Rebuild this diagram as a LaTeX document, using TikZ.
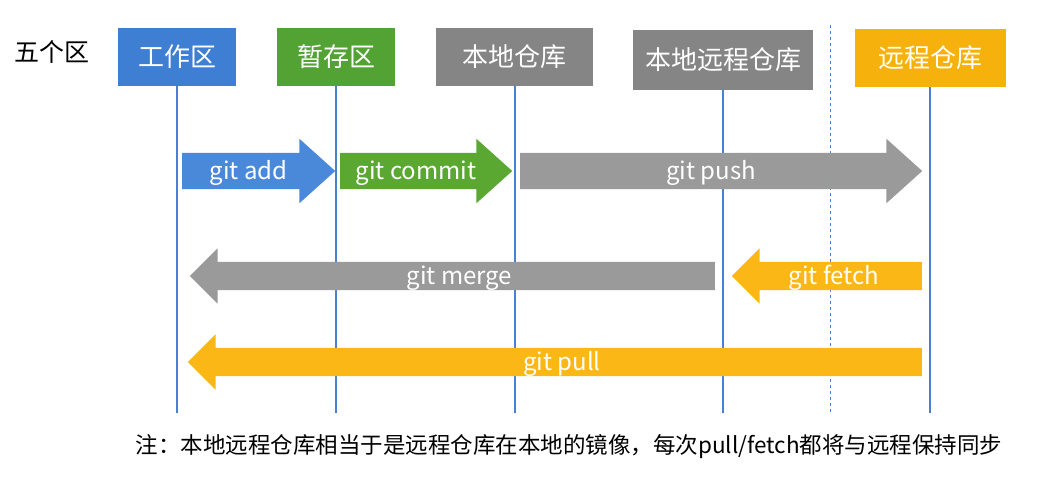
\documentclass[tikz,border=0pt]{standalone}
\usepackage{fontspec}
\setmainfont{Noto Sans CJK SC}
\usetikzlibrary{shapes.arrows}

\definecolor{workblue}{HTML}{3F7FD3}
\definecolor{stagegreen}{HTML}{52A333}
\definecolor{repogray}{HTML}{858585}
\definecolor{remoteorange}{HTML}{F6B10C}
\definecolor{laneblue}{HTML}{4A80D2}
\definecolor{addblue}{HTML}{4A89D9}
\definecolor{commitgreen}{HTML}{5AA832}
\definecolor{pushgray}{HTML}{9A9A9A}
\definecolor{pullorange}{HTML}{FBB715}

\tikzset{
  zone/.style={minimum height=58pt, inner sep=0pt, text=white,
    font=\fontsize{26}{30}\selectfont},
  lane/.style={draw=laneblue, line width=1.8pt},
  cmd/.style={single arrow, anchor=tail, text=white, inner xsep=0pt,
    text height=19pt, text depth=2pt, inner ysep=7.5pt,
    single arrow head extend=14pt, single arrow tip angle=84,
    font=\fontsize{24}{28}\selectfont},
  back/.style={cmd, shape border rotate=180, inner ysep=3.5pt,
    single arrow head extend=13.5pt, single arrow tip angle=90}
}

\begin{document}
\begin{tikzpicture}[x=1pt, y=-1pt]
  \useasboundingbox (0,0) rectangle (1044,488);

  % the five zones
  \node[font=\fontsize{25}{30}\selectfont] (title) at (52,52) {五个区};
  \node[zone, minimum width=118pt, fill=workblue] (work) at (177,57) {工作区};
  \node[zone, minimum width=118pt, fill=stagegreen] (stage) at (336,57) {暂存区};
  \node[zone, minimum width=157pt, fill=repogray] (local) at (514,57) {本地仓库};
  \node[zone, minimum width=180pt, minimum height=60pt, fill=repogray] (mirror) at (723,60) {本地远程仓库};
  \node[zone, minimum width=151pt, fill=remoteorange] (remote) at (930,58) {远程仓库};

  % lanes
  \coordinate (workend) at (177,413);
  \coordinate (stageend) at (336,413);
  \coordinate (localend) at (515,413);
  \coordinate (mirrorend) at (723,413);
  \coordinate (remoteend) at (930,413);
  \coordinate (sepstart) at (830,25);
  \coordinate (sepend) at (830,413);
  \draw[lane] (work.south) -- (workend);
  \draw[lane] (stage.south) -- (stageend);
  \draw[lane] (local.south -| localend) -- (localend);
  \draw[lane] (mirror.south) -- (mirrorend);
  \draw[lane] (remote.south) -- (remoteend);
  \draw[draw=laneblue, line width=1pt, dashed] (sepstart) -- (sepend);

  % commands
  \node[cmd, fill=addblue, minimum height=153pt] (add) at (182,171) {git add};
  \node[cmd, fill=commitgreen, minimum height=172pt] (commit) at (340,171) {git commit};
  \node[cmd, fill=pushgray, minimum height=402pt] (push) at (520,171) {git push};
  \node[back, fill=pushgray, minimum height=525pt] (merge) at (715,276) {git merge};
  \node[back, fill=pullorange, minimum height=190pt] (fetch) at (922,276) {git fetch};
  \node[back, fill=pullorange, minimum height=734pt] (pull) at (922,362) {git pull};

  \node[font=\fontsize{22.5}{26}\selectfont] (note) at (569,447)
    {注：本地远程仓库相当于是远程仓库在本地的镜像，每次pull/fetch都将与远程保持同步};
\end{tikzpicture}
\end{document}
